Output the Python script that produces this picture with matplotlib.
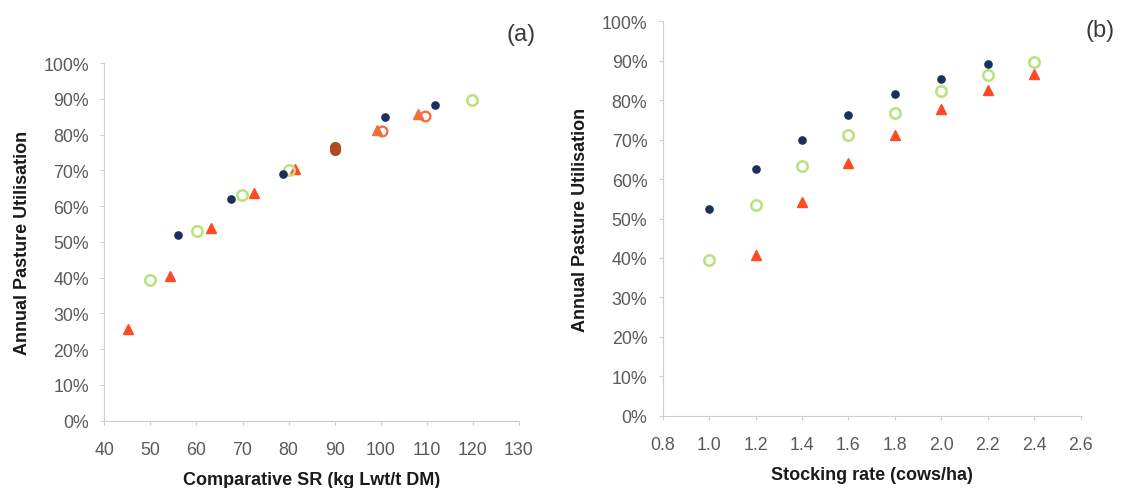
import matplotlib
matplotlib.use("Agg")
import matplotlib.pyplot as plt
from matplotlib.ticker import FuncFormatter, MultipleLocator

plt.rcParams['font.family'] = ['Liberation Sans', 'DejaVu Sans']

# ---------------- Panel (a) data: Comparative SR vs utilisation ----------------
a_navy_x = [56.1, 67.4, 78.8, 100.9, 111.8]
a_navy_y = [51.8, 62.0, 69.1, 85.0, 88.3]
a_green_x = [50.0, 60.1, 69.9, 80.1, 119.7]
a_green_y = [39.4, 52.9, 63.1, 70.2, 89.6]
a_red_x = [45.1, 54.2, 63.2, 72.4, 81.5]
a_red_y = [25.6, 40.4, 53.8, 63.6, 70.5]
a_orange_tri_x = [99.2, 108.0]
a_orange_tri_y = [81.4, 85.7]
a_orange_circ_x = [100.2, 109.7]
a_orange_circ_y = [80.9, 85.3]
a_brown_x = [90.0, 90.0]
a_brown_y = [75.6, 76.6]

# ---------------- Panel (b) data: Stocking rate vs utilisation ----------------
b_navy_x = [1.0, 1.2, 1.4, 1.6, 1.8, 2.0, 2.2]
b_navy_y = [52.4, 62.7, 70.0, 76.2, 81.6, 85.5, 89.3]
b_green_x = [1.0, 1.2, 1.4, 1.6, 1.8, 2.0, 2.2, 2.4]
b_green_y = [39.6, 53.5, 63.4, 71.1, 76.8, 82.3, 86.5, 89.6]
b_red_x = [1.2, 1.4, 1.6, 1.8, 2.0, 2.2, 2.4]
b_red_y = [40.8, 54.1, 64.1, 71.3, 77.9, 82.5, 86.8]

NAVY = '#1c2f5c'
GREEN = '#b8e27c'
RED = '#ff4a24'
ORANGE = '#f26c3c'
BROWN = '#b04a25'
AXC = '#cfcfc7'
TXT = '#5a5a5a'

fig = plt.figure(figsize=(11.25, 4.89), dpi=100)
axA = fig.add_axes([0.0927, 0.138, 0.3686, 0.731])
axB = fig.add_axes([0.589, 0.148, 0.3716, 0.806])

pct = FuncFormatter(lambda v, p: f"{int(round(v))}%")

def style(ax):
    for s in ['top', 'right']:
        ax.spines[s].set_visible(False)
    for s in ['left', 'bottom']:
        ax.spines[s].set_color(AXC)
        ax.spines[s].set_linewidth(0.8)
    ax.tick_params(axis='both', colors=AXC, labelcolor=TXT, labelsize=12.8,
                   length=3, width=0.8, direction='out')
    ax.tick_params(axis='x', pad=12)
    ax.tick_params(axis='y', pad=8)
    ax.set_ylim(0, 100)
    ax.yaxis.set_major_locator(MultipleLocator(10))
    ax.yaxis.set_major_formatter(pct)
    ax.set_ylabel('Annual Pasture Utilisation', fontsize=13, fontweight='bold',
                  color='#1a1a1a', labelpad=9)

# Panel (a)
ax = axA
ax.plot(a_red_x, a_red_y, '^', ms=7, color=RED, mec=RED, ls='none')
ax.plot(a_green_x, a_green_y, 'o', ms=7.5, mfc='none', mec=GREEN, mew=1.8, ls='none')
ax.plot(a_navy_x, a_navy_y, 'o', ms=5.2, color=NAVY, ls='none')
ax.plot(a_orange_tri_x, a_orange_tri_y, '^', ms=7, color=ORANGE, ls='none')
ax.plot(a_orange_circ_x, a_orange_circ_y, 'o', ms=7, mfc='none', mec=ORANGE, mew=1.6, ls='none')
ax.plot(a_brown_x, a_brown_y, 'o', ms=7, color=BROWN, ls='none')
ax.set_xlim(40, 130)
ax.xaxis.set_major_locator(MultipleLocator(10))
style(ax)
ax.set_xlabel('Comparative SR (kg Lwt/t DM)', fontsize=13, fontweight='bold',
              color='#1a1a1a', labelpad=9)
fig.text(0.463, 0.928, '(a)', fontsize=17, color='#3a3a3a', ha='center', va='center')

# Panel (b)
ax = axB
ax.plot(b_red_x, b_red_y, '^', ms=7, color=RED, ls='none')
ax.plot(b_green_x, b_green_y, 'o', ms=7.5, mfc='none', mec=GREEN, mew=1.8, ls='none')
ax.plot(b_navy_x, b_navy_y, 'o', ms=5.2, color=NAVY, ls='none')
ax.set_xlim(0.8, 2.6)
ax.xaxis.set_major_locator(MultipleLocator(0.2))
ax.xaxis.set_major_formatter(FuncFormatter(lambda v, p: f"{v:.1f}"))
style(ax)
ax.set_xlabel('Stocking rate (cows/ha)', fontsize=13, fontweight='bold',
              color='#1a1a1a', labelpad=9)
fig.text(0.978, 0.937, '(b)', fontsize=17, color='#3a3a3a', ha='center', va='center')

fig.savefig('out.png', dpi=100, facecolor='white')
